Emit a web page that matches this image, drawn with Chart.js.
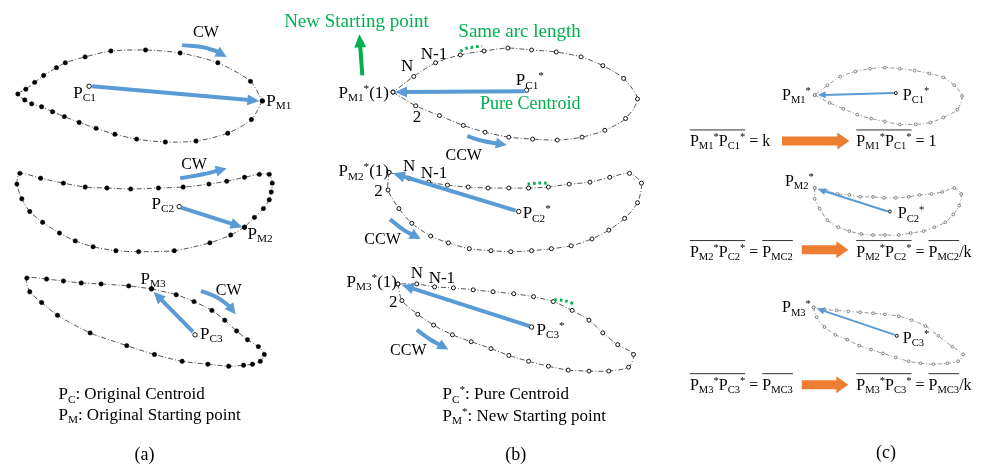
<!DOCTYPE html>
<html>
<head>
<meta charset="utf-8">
<script src="https://cdn.jsdelivr.net/npm/chart.js@4/dist/chart.umd.min.js"></script>
<style>
  html, body { margin: 0; padding: 0; background: #fff; }
  canvas { display: block; }
</style>
</head>
<body>
<canvas id="fig" width="981" height="472"></canvas>
<script>
// ---- Contour samples (figure units: x right, y down) ----
// (a) original contours, clockwise sampling
const shapeA1 = [[260,98],[249,117],[225,131],[193,139],[162,140],[133,137],[111,132],[92,126],[75,120],[60,114],[48,109],[37,104],[27,101],[20,97],[13,91],[21,86],[30,79],[39,72],[52,64],[61,59],[81,53],[107,47],[142,46],[177,49],[215,59],[248,78]];
const shapeA2 = [[242,227],[228,235],[207,243],[171,251],[135,252],[112,251],[89,247],[71,241],[55,233],[38,222],[25,211],[17,198],[12,183],[15,172],[36,177],[59,182],[81,186],[103,187],[127,188],[155,187],[180,186],[206,183],[224,180],[242,176],[257,173],[267,173],[270,182],[269,191],[267,199],[261,208],[252,217]];
const shapeA3 = [[148,290],[173,296],[191,303],[209,312],[222,322],[234,333],[245,342],[256,349],[262,357],[258,364],[250,367],[241,368],[226,369],[205,367],[179,364],[151,357],[123,348],[86,335],[53,317],[37,304],[25,293],[22,279],[42,280],[59,282],[77,284],[97,285],[125,287]];
const centroidsA = [[85,83],[176,206],[192,337]];

// (b) resampled contours, counter-clockwise, equal arc length
const shapeB1 = [[392,89],[415,103],[439,113],[463,123],[485,130],[509,135],[533,137],[558,138],[583,135],[606,128],[627,116],[639,96],[625,75],[604,62],[582,53],[557,48],[532,46],[508,44],[484,47],[460,51],[435,59],[413,73]];
const shapeB2 = [[388,171],[387,189],[398,208],[411,223],[430,236],[448,243],[469,249],[491,251],[511,252],[532,251],[552,249],[572,246],[593,239],[610,230],[626,218],[639,202],[643,182],[631,172],[611,176],[591,181],[570,183],[549,186],[529,187],[509,187],[488,187],[468,186],[447,184],[428,181],[408,177]];
const shapeB3 = [[397,285],[401,302],[417,316],[433,327],[452,337],[471,344],[491,351],[509,358],[529,364],[549,369],[569,373],[590,374],[610,374],[630,370],[635,357],[619,347],[604,335],[590,322],[573,312],[554,303],[534,298],[514,295],[493,293],[473,291],[453,289],[434,288],[416,285]];
const centroidsB = [[527,87],[519,211],[532,329]];

// (c) scale-normalised contours
const shapeC1 = [[818,92],[833,100],[847,106],[861,112],[875,116],[889,119],[904,122],[920,122],[935,120],[948,115],[962,107],[967,93],[959,82],[948,74],[934,70],[919,67],[904,65],[889,64],[874,65],[859,68],[844,73],[831,82]];
const shapeC2 = [[818,187],[818,198],[823,208],[831,220],[842,227],[853,231],[865,234],[877,235],[889,235],[903,235],[915,233],[928,231],[939,227],[950,222],[958,214],[964,205],[966,193],[959,187],[947,191],[936,193],[924,194],[913,196],[900,197],[888,197],[877,196],[864,196],[853,194],[841,193],[830,190]];
const shapeC3 = [[817,309],[820,319],[828,329],[839,337],[851,342],[863,348],[875,352],[887,356],[900,360],[913,364],[925,366],[938,367],[952,366],[963,364],[968,357],[957,349],[943,338],[930,328],[916,322],[903,318],[889,316],[877,315],[864,314],[852,313],[840,312],[828,311]];
const centroidsC = [[900,90],[894,211],[901,338]];

// ---- Arrows: polyline ending at the tip ----
const arrowsCentroid = [
  [[88,83],[257,98]],
  [[178,207],[240,227]],
  [[190,334],[150,293]],
  [[525,88],[394,89]],
  [[516,210],[392,172]],
  [[530,328],[401,286]]
];
const arrowsTurn = [
  [[179,41],[199,43],[213,47],[224,53]],
  [[177,177],[200,173],[224,167]],
  [[198,292],[213,298],[226,307],[233,316]],
  [[467,134],[483,139],[507,143]],
  [[389,219],[403,230],[420,239]],
  [[416,332],[430,342],[448,352]]
];
const arrowsScaled = [
  [[898,90],[821,92]],
  [[892,211],[821,188]],
  [[899,337],[820,310]]
];
const arrowNewStart = [[361,72],[358,30]];
const arrowsMap = [
  [[785,139],[853,139]],
  [[805,250],[852,250]],
  [[805,388],[852,388]]
];
const arcMarks = [
  [[460,47],[467,44],[474,43],[482,42]],
  [[528,183],[538,182],[549,182]],
  [[555,301],[565,302],[576,306]]
];

// ---- Text (rich: _{sub} ^{sup} [overline]) ----
const labelsA = [
  [69,95,'P_{C1}'], [264,103,'P_{M1}'],
  [148,208,'P_{C2}'], [245,239,'P_{M2}'],
  [137,285,'P_{M3}'], [197,341,'P_{C3}']
];
const turnLabels = [
  [190,33,'CW'], [178,168,'CW'], [213,296,'CW'],
  [445,158,'CCW'], [363,244,'CCW'], [389,358,'CCW']
];
const labelsB = [
  [337,95,'P_{M1}^{*}(1)'], [400,67,'N'], [420,55,'N-1'], [412,120,'2'], [516,82,'P_{C1}^{*}'],
  [337,175,'P_{M2}^{*}(1)'], [402,170,'N'], [420,177,'N-1'], [373,195,'2'], [523,218,'P_{C2}^{*}'],
  [345,288,'P_{M3}^{*}(1)'], [410,279,'N'], [428,284,'N-1'], [388,309,'2'], [537,337,'P_{C3}^{*}']
];
const greenLabels = [
  [282,22,'New Starting point',19], [458,33,'Same arc length',19], [480,106,'Pure Centroid',18]
];
const legendLines = [
  [54,403,'P_{C}: Original Centroid'], [54,424,'P_{M}: Original Starting point'],
  [442,403,'P_{C}^{*}: Pure Centroid'], [442,425,'P_{M}^{*}: New Starting point']
];
const labelsC = [
  [785,97,'P_{M1}^{*}'], [907,97,'P_{C1}^{*}'],
  [788,185,'P_{M2}^{*}'], [902,218,'P_{C2}^{*}'],
  [785,314,'P_{M3}^{*}'], [907,345,'P_{C3}^{*}'],
  [692,144,'[P_{M1}^{*}P_{C1}^{*}] = k'], [860,144,'[P_{M1}^{*}P_{C1}^{*}] = 1'],
  [692,257,'[P_{M2}^{*}P_{C2}^{*}] = [P_{MC2}]'], [860,257,'[P_{M2}^{*}P_{C2}^{*}] = [P_{MC2}]/k'],
  [692,393,'[P_{M3}^{*}P_{C3}^{*}] = [P_{MC3}]'], [860,393,'[P_{M3}^{*}P_{C3}^{*}] = [P_{MC3}]/k']
];
const panelTags = [[141,465,'(a)'], [516,465,'(b)'], [890,463,'(c)']];

// ---- Styling ----
const FONT = '"Liberation Serif", "Times New Roman", serif';
const BLUE = '#5B9BD5', GREEN = '#00B050', ORANGE = '#ED7D31';

const toXY = pts => pts.map(p => ({x: p[0], y: p[1]}));
const closed = pts => toXY(pts.concat([pts[0]]));

function outline(pts, kind) {
  const base = {data: closed(pts), showLine: true, borderDash: [5,2,1,2], tension: 0.25, order: 3, pointHitRadius: 0};
  if (kind === 'a') return Object.assign(base, {borderColor: '#555', borderWidth: 1, pointRadius: 2.2, pointBackgroundColor: '#000', pointBorderColor: '#000', pointBorderWidth: 0.5});
  if (kind === 'b') return Object.assign(base, {borderColor: '#555', borderWidth: 1, pointRadius: 2, pointBackgroundColor: '#fff', pointBorderColor: '#111', pointBorderWidth: 1});
  return Object.assign(base, {borderColor: '#8a8a8a', borderWidth: 0.9, borderDash: [4,2,1,2], pointRadius: 1.4, pointBackgroundColor: '#fff', pointBorderColor: '#666', pointBorderWidth: 0.8});
}
function centroids(pts, r) {
  return {data: toXY(pts), showLine: false, pointRadius: r, pointBackgroundColor: '#fff', pointBorderColor: '#111', pointBorderWidth: 1, order: 2};
}

// arrow shafts stop at the head base; heads are filled by the plugin
const heads = [];
function arrow(pts, color, width, len, half, tension) {
  const n = pts.length, tip = pts[n-1], prev = pts[n-2];
  const dx = tip[0]-prev[0], dy = tip[1]-prev[1], d = Math.hypot(dx, dy);
  const ux = dx/d, uy = dy/d;
  const base = [tip[0]-ux*len*0.85, tip[1]-uy*len*0.85];
  heads.push({tip, ux, uy, len, half, color});
  return {data: toXY(pts.slice(0, n-1).concat([base])), showLine: true, borderColor: color, borderWidth: width,
          borderCapStyle: 'butt', pointRadius: 0, tension: tension || 0, order: 1};
}

const datasets = [];
[shapeA1, shapeA2, shapeA3].forEach(s => datasets.push(outline(s, 'a')));
[shapeB1, shapeB2, shapeB3].forEach(s => datasets.push(outline(s, 'b')));
[shapeC1, shapeC2, shapeC3].forEach(s => datasets.push(outline(s, 'c')));
datasets.push(centroids(centroidsA, 2.2));
datasets.push(centroids(centroidsB, 2.2));
datasets.push(centroids(centroidsC, 1.5));
arcMarks.forEach(m => datasets.push({data: toXY(m), showLine: true, borderColor: GREEN, borderWidth: 3, borderDash: [2.5,3], pointRadius: 0, tension: 0.3, order: 0}));
arrowsCentroid.forEach(a => datasets.push(arrow(a, BLUE, 4, 12, 5.5)));
arrowsTurn.forEach(a => datasets.push(arrow(a, BLUE, 4, 11, 5.5, 0.4)));
arrowsScaled.forEach(a => datasets.push(arrow(a, BLUE, 2, 8, 3.5)));
datasets.push(arrow(arrowNewStart, GREEN, 4, 13, 6));
arrowsMap.forEach(a => datasets.push(arrow(a, ORANGE, 9, 12, 8.5)));

// ---- rich text ----
function parseRich(s) {
  const out = []; let i = 0, buf = '', grp = 0, g = 0;
  const flush = () => { if (buf) { out.push({t: buf, m: 'n', g}); buf = ''; } };
  while (i < s.length) {
    const c = s[i];
    if ((c === '_' || c === '^') && s[i+1] === '{') {
      flush(); const j = s.indexOf('}', i);
      out.push({t: s.slice(i+2, j), m: c === '_' ? 'b' : 'p', g}); i = j + 1; continue;
    }
    if (c === '[') { flush(); grp++; g = grp; i++; continue; }
    if (c === ']') { flush(); g = 0; i++; continue; }
    buf += c; i++;
  }
  flush(); return out;
}
function drawRich(ctx, x, y, s, size, color, align) {
  const toks = parseRich(s);
  let w = 0;
  toks.forEach(t => {
    t.fs = t.m === 'n' ? size : size * 0.66;
    ctx.font = t.fs + 'px ' + FONT;
    t.w = ctx.measureText(t.t).width; w += t.w;
  });
  let cx = align === 'center' ? x - w/2 : x;
  const spans = {};
  ctx.fillStyle = color; ctx.textBaseline = 'alphabetic'; ctx.textAlign = 'left';
  toks.forEach(t => {
    ctx.font = t.fs + 'px ' + FONT;
    const dy = t.m === 'b' ? size*0.2 : t.m === 'p' ? -size*0.36 : 0;
    ctx.fillText(t.t, cx, y + dy);
    if (t.g) { if (!spans[t.g]) spans[t.g] = [cx, cx]; spans[t.g][1] = cx + t.w; }
    cx += t.w;
  });
  ctx.strokeStyle = '#333'; ctx.lineWidth = 1;
  Object.values(spans).forEach(sp => {
    ctx.beginPath(); ctx.moveTo(sp[0], y - size*1.0); ctx.lineTo(sp[1], y - size*1.0); ctx.stroke();
  });
}

const annotate = {
  id: 'annotate',
  afterDatasetsDraw(chart) {
    const ctx = chart.ctx, sx = chart.scales.x, sy = chart.scales.y;
    const X = v => sx.getPixelForValue(v), Y = v => sy.getPixelForValue(v);
    ctx.save();
    heads.forEach(h => {
      const tx = X(h.tip[0]), ty = Y(h.tip[1]);
      const bx = tx - h.ux*h.len, by = ty - h.uy*h.len;
      ctx.fillStyle = h.color;
      ctx.beginPath();
      ctx.moveTo(tx, ty);
      ctx.lineTo(bx - h.uy*h.half, by + h.ux*h.half);
      ctx.lineTo(bx + h.uy*h.half, by - h.ux*h.half);
      ctx.closePath(); ctx.fill();
    });
    labelsA.forEach(l => drawRich(ctx, X(l[0]), Y(l[1]), l[2], 17, '#000'));
    turnLabels.forEach(l => drawRich(ctx, X(l[0]), Y(l[1]), l[2], 16, '#000'));
    labelsB.forEach(l => drawRich(ctx, X(l[0]), Y(l[1]), l[2], 17, '#000'));
    greenLabels.forEach(l => drawRich(ctx, X(l[0]), Y(l[1]), l[2], l[3], GREEN));
    legendLines.forEach(l => drawRich(ctx, X(l[0]), Y(l[1]), l[2], 17, '#000'));
    labelsC.forEach(l => drawRich(ctx, X(l[0]), Y(l[1]), l[2], 16, '#000'));
    panelTags.forEach(l => drawRich(ctx, X(l[0]), Y(l[1]), l[2], 18, '#000', 'center'));
    ctx.restore();
  }
};

new Chart(document.getElementById('fig').getContext('2d'), {
  type: 'scatter',
  data: {datasets},
  options: {
    responsive: false, animation: false, devicePixelRatio: 1, events: [],
    layout: {padding: 0},
    plugins: {legend: {display: false}, tooltip: {enabled: false}},
    scales: {
      x: {type: 'linear', min: 0, max: 981, display: false},
      y: {type: 'linear', min: 0, max: 472, reverse: true, display: false}
    }
  },
  plugins: [annotate]
});
</script>
</body>
</html>
